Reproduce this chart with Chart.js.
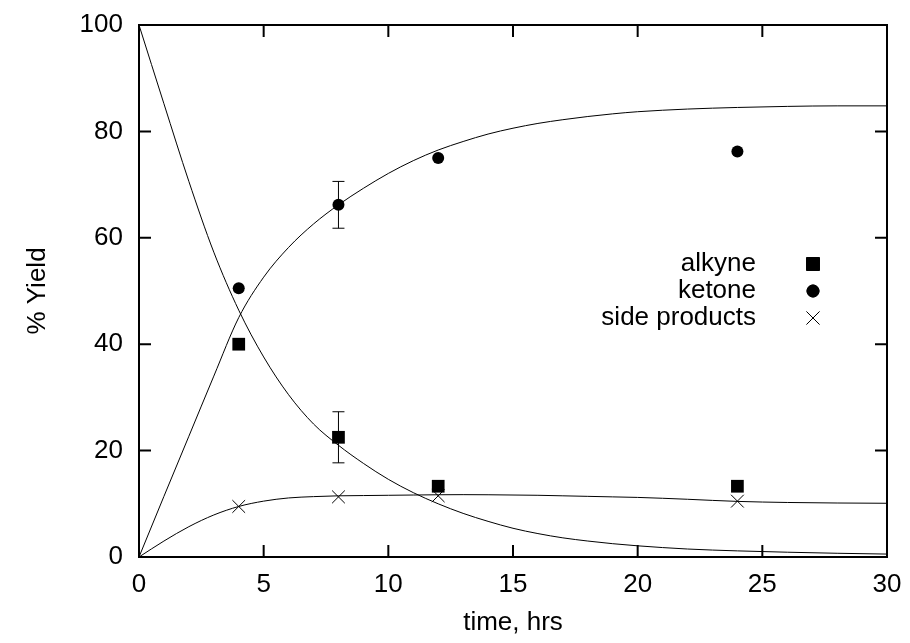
<!DOCTYPE html>
<html>
<head>
<meta charset="utf-8">
<script src="https://cdn.jsdelivr.net/npm/chart.js@4.4.1/dist/chart.umd.min.js"></script>
<style>
body{margin:0;background:#fff}
#wrap{width:910px;height:643px}
</style>
</head>
<body>
<div id="wrap"><canvas id="yieldChart"></canvas></div>
<script>
// measured points
const sampleTimes = [4, 8, 12, 24]
const alkyneYield = [40.0, 22.5, 13.3, 13.3]
const ketoneYield = [50.5, 66.2, 75.0, 76.2]
const sideYield = [9.5, 11.3, 11.5, 10.5]
const alkyneErr = [0, 4.8, 0, 0]
const ketoneErr = [0, 4.4, 0, 0]

// fitted curves
const fitTimes = [0,1,2,3,4,5,6,7,8,9,10,11,12,13,14,15,16,17,18,19,20,22,24,26,28,30]
const alkyneFit = [100,85.2,70.6,57.3,46.4,37.6,30.5,25.0,21.0,17.6,14.6,12.1,10.0,8.2,6.7,5.4,4.4,3.6,3.0,2.5,2.1,1.5,1.15,0.9,0.7,0.55]
const ketoneFit = [0,11.4,22.7,34.0,45.0,52.6,58.2,62.6,66.2,69.3,72.1,74.5,76.5,78.1,79.5,80.6,81.5,82.2,82.8,83.3,83.7,84.2,84.5,84.7,84.8,84.8]
const sideFit = [0,3.0,5.7,7.9,9.5,10.5,11.1,11.35,11.5,11.55,11.6,11.65,11.7,11.72,11.7,11.65,11.6,11.5,11.4,11.3,11.2,10.85,10.45,10.25,10.15,10.1]

const seriesNames = ["alkyne", "ketone", "side products"]

const FONT = "Liberation Sans, Arial, Helvetica, sans-serif"
const FSIZE = 26

function pts(xs, ys){
return xs.map((x,i)=>({x:x, y:ys[i]}))
}

function curve(ys){
return {
type:'line',
data:pts(fitTimes, ys),
borderColor:'#000',
borderWidth:1,
pointRadius:0,
cubicInterpolationMode:'monotone',
order:2
}
}

/* frame with inward ticks on all sides, like gnuplot */
const framePlugin = {
id:'frame',
afterDatasetsDraw(chart){
const {ctx, chartArea:a, scales} = chart
ctx.save()
ctx.strokeStyle = '#000'
ctx.lineWidth = 2
ctx.strokeRect(a.left, a.top, a.right-a.left, a.bottom-a.top)
const tl = 12
ctx.beginPath()
scales.x.ticks.forEach(t=>{
let px = scales.x.getPixelForValue(t.value)
ctx.moveTo(px, a.bottom); ctx.lineTo(px, a.bottom-tl)
ctx.moveTo(px, a.top); ctx.lineTo(px, a.top+tl)
})
scales.y.ticks.forEach(t=>{
let py = scales.y.getPixelForValue(t.value)
ctx.moveTo(a.left, py); ctx.lineTo(a.left+tl, py)
ctx.moveTo(a.right, py); ctx.lineTo(a.right-tl, py)
})
ctx.stroke()
ctx.restore()
}
}

/* error bars */
const errPlugin = {
id:'errbars',
beforeDatasetsDraw(chart){
const {ctx, scales} = chart
ctx.save()
ctx.strokeStyle = '#000'
ctx.lineWidth = 1
chart.data.datasets.forEach(ds=>{
if(!ds.err) return
ds.data.forEach((p,i)=>{
let e = ds.err[i]
if(!e) return
let px = scales.x.getPixelForValue(p.x)
let y1 = scales.y.getPixelForValue(p.y+e)
let y2 = scales.y.getPixelForValue(p.y-e)
ctx.beginPath()
ctx.moveTo(px, y1); ctx.lineTo(px, y2)
ctx.moveTo(px-6, y1); ctx.lineTo(px+6, y1)
ctx.moveTo(px-6, y2); ctx.lineTo(px+6, y2)
ctx.stroke()
})
})
ctx.restore()
}
}

/* legend: text right aligned, symbol to the right */
const keyPlugin = {
id:'key',
afterDatasetsDraw(chart){
const {ctx} = chart
ctx.save()
ctx.font = FSIZE + "px " + FONT
ctx.fillStyle = '#000'
ctx.textAlign = 'right'
ctx.textBaseline = 'middle'
let rows = [264, 291, 318]
chart.data.datasets.slice(0,3).forEach((ds,i)=>{
ctx.fillText(ds.label, 756, rows[i])
Chart.helpers.drawPoint(ctx, {
pointStyle:ds.pointStyle, radius:ds.pointRadius, borderWidth:1
}, 813, rows[i])
ctx.fillStyle = ds.pointBackgroundColor
ctx.strokeStyle = ds.pointBorderColor
if(ds.pointStyle !== 'crossRot') ctx.fill()
ctx.stroke()
ctx.fillStyle = '#000'
})
ctx.restore()
}
}

new Chart(document.getElementById("yieldChart"),{

type:'scatter',

data:{
datasets:[
{
label:seriesNames[0],
data:pts(sampleTimes, alkyneYield),
err:alkyneErr,
pointStyle:'rect',
pointRadius:9,
pointBackgroundColor:'#000',
pointBorderColor:'#000',
pointBorderWidth:0,
order:0
},
{
label:seriesNames[1],
data:pts(sampleTimes, ketoneYield),
err:ketoneErr,
pointStyle:'circle',
pointRadius:6,
pointBackgroundColor:'#000',
pointBorderColor:'#000',
pointBorderWidth:0,
order:0
},
{
label:seriesNames[2],
data:pts(sampleTimes, sideYield),
pointStyle:'crossRot',
pointRadius:9,
pointBackgroundColor:'#000',
pointBorderColor:'#000',
pointBorderWidth:1,
order:0
},
curve(alkyneFit),
curve(ketoneFit),
curve(sideFit)
]
},

options:{
responsive:true,
maintainAspectRatio:false,
animation:false,
layout:{autoPadding:false, padding:{top:25, right:23, left:0, bottom:0}},
plugins:{
legend:{display:false},
tooltip:{enabled:false}
},
scales:{
x:{
type:'linear',
min:0, max:30,
grid:{display:false, drawTicks:false},
border:{display:false},
ticks:{stepSize:5, color:'#000', padding:12, font:{family:FONT, size:FSIZE}},
title:{display:true, text:'time, hrs', color:'#000', font:{family:FONT, size:FSIZE}, padding:{top:0, bottom:5}},
afterFit(s){ s.height = 86; s.paddingLeft = 0; s.paddingRight = 0 }
},
y:{
min:0, max:100,
grid:{display:false, drawTicks:false},
border:{display:false},
ticks:{stepSize:20, color:'#000', padding:16, font:{family:FONT, size:FSIZE}},
title:{display:true, text:'% Yield', color:'#000', font:{family:FONT, size:FSIZE}, padding:{top:22, bottom:0}},
afterFit(s){ s.width = 139; s.paddingTop = 0; s.paddingBottom = 0 }
}
}
},

plugins:[errPlugin, framePlugin, keyPlugin]

})
</script>
</body>
</html>
